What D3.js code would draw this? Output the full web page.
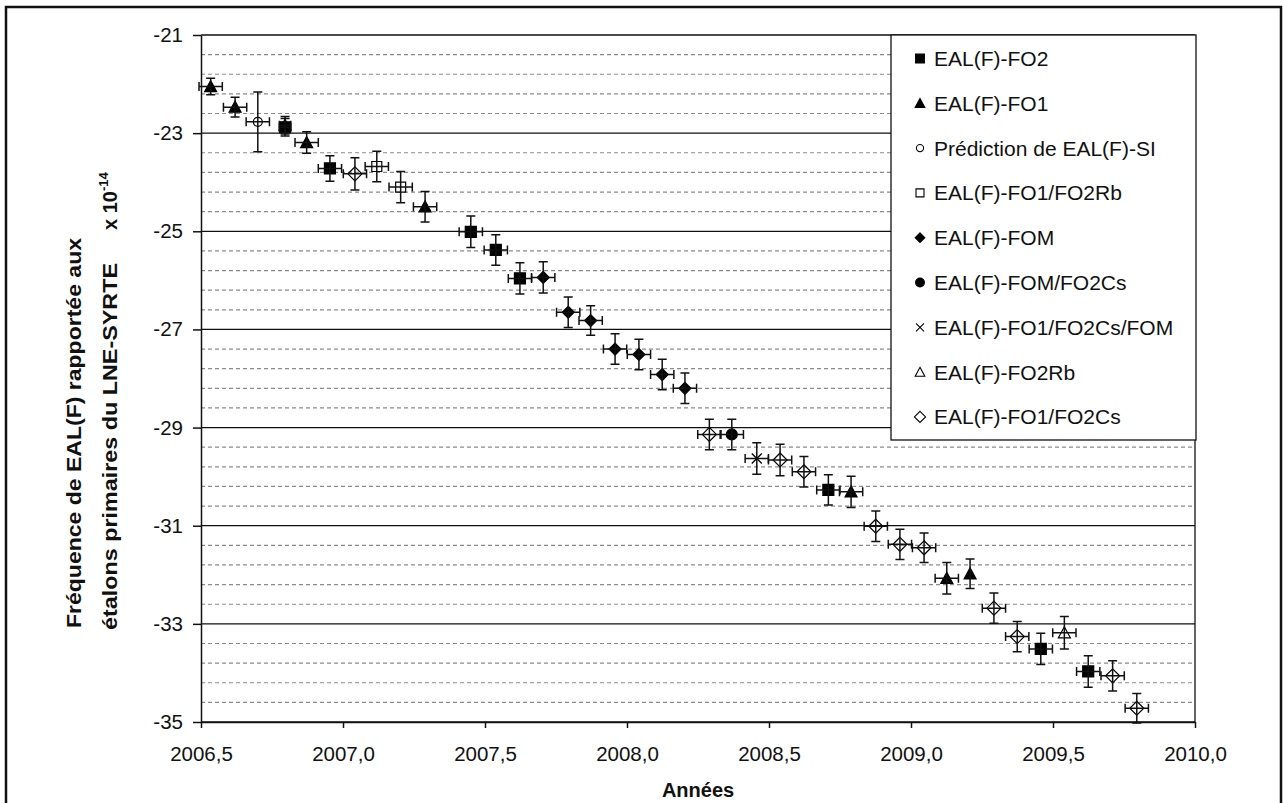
<!DOCTYPE html>
<html lang="fr">
<head>
<meta charset="utf-8">
<title>Fréquence de EAL(F)</title>
<style>
  body { margin:0; background:#fff; }
  svg  { display:block; }
  text { font-family:"Liberation Sans", Arial, sans-serif; fill:#111; }
</style>
</head>
<body>
<script src="https://cdn.jsdelivr.net/npm/d3@7"></script>
<script>
// series names, in legend order
const seriesNames = [
  "EAL(F)-FO2", "EAL(F)-FO1", "Prédiction de EAL(F)-SI", "EAL(F)-FO1/FO2Rb",
  "EAL(F)-FOM", "EAL(F)-FOM/FO2Cs", "EAL(F)-FO1/FO2Cs/FOM", "EAL(F)-FO2Rb", "EAL(F)-FO1/FO2Cs"
];
const seriesMarkers = ["squareF", "triF", "circleO", "squareO", "diamondF", "circleF", "cross", "triO", "diamondO"];

// points: series index, year, value (x 1e-14), y error, x error
const pointSeries = [1,1,2,0,1,0,1,8,3,3,1,0,0,0,4,4,4,4,4,4,4,8,5,6,8,8,0,1,8,8,8,1,1,8,8,0,7,0,8,8];
const pointYears  = [2006.534,2006.620,2006.700,2006.796,2006.796,2006.954,2006.872,2007.042,2007.119,2007.203,2007.289,
                     2007.450,2007.538,2007.623,2007.705,2007.793,2007.872,2007.958,2008.042,2008.124,2008.204,
                     2008.290,2008.369,2008.457,2008.539,2008.623,2008.709,2008.789,2008.876,2008.961,2009.046,
                     2009.126,2009.208,2009.292,2009.374,2009.457,2009.540,2009.624,2009.710,2009.795];
const pointValues = [-22.05,-22.47,-22.77,-22.88,-22.84,-23.72,-23.19,-23.83,-23.68,-24.10,-24.50,
                     -25.01,-25.38,-25.96,-25.94,-26.65,-26.82,-27.40,-27.51,-27.92,-28.20,
                     -29.14,-29.14,-29.63,-29.66,-29.90,-30.27,-30.31,-31.01,-31.38,-31.45,
                     -32.07,-31.98,-32.68,-33.26,-33.51,-33.18,-33.97,-34.06,-34.72];
const pointYErr   = [0.17,0.20,0.61,0.18,0.18,0.26,0.22,0.33,0.31,0.32,0.31,
                     0.32,0.31,0.32,0.32,0.31,0.30,0.31,0.31,0.31,0.31,
                     0.31,0.31,0.32,0.32,0.31,0.31,0.32,0.31,0.31,0.30,
                     0.32,0.30,0.31,0.31,0.32,0.33,0.32,0.31,0.30];
const pointXErr   = [0.041,0.041,0.041,0.02,0.02,0.041,0.041,0.041,0.041,0.041,0.041,
                     0.041,0.041,0.041,0.041,0.041,0.041,0.041,0.041,0.041,0.041,
                     0.041,0.041,0.041,0.041,0.041,0.041,0.041,0.041,0.041,0.041,
                     0.041,0,0.041,0.041,0.041,0.041,0.041,0.041,0.041];

const yMajorTicks = [-21, -23, -25, -27, -29, -31, -33, -35];
const xTicks = [2006.5, 2007.0, 2007.5, 2008.0, 2008.5, 2009.0, 2009.5, 2010.0];

const points = pointYears.map((yr, i) => ({
  s: pointSeries[i], x: yr, y: pointValues[i], ey: pointYErr[i], ex: pointXErr[i]
}));

const W = 1287, H = 803;
const svg = d3.select("body").append("svg").attr("width", W).attr("height", H);

const x = d3.scaleLinear().domain([2006.5, 2010]).range([201, 1195]);
const y = d3.scaleLinear().domain([-35, -21]).range([722, 35]);

// outer frame
svg.append("rect").attr("x", 6).attr("y", 7).attr("width", 1275).attr("height", 830)
  .attr("fill", "none").attr("stroke", "#111").attr("stroke-width", 2.5);

// minor dashed grid every 0.4
const minor = d3.range(0, 36).map(i => -35 + i * 0.4).filter((d, i) => i % 5 !== 0);
svg.append("g").selectAll("line").data(minor).join("line")
  .attr("x1", x(2006.5)).attr("x2", x(2010)).attr("y1", d => y(d)).attr("y2", d => y(d))
  .attr("stroke", "#8a8a8a").attr("stroke-width", 1.2).attr("stroke-dasharray", "4,3");

// major solid grid
svg.append("g").selectAll("line").data(yMajorTicks).join("line")
  .attr("x1", x(2006.5)).attr("x2", x(2010)).attr("y1", d => y(d)).attr("y2", d => y(d))
  .attr("stroke", "#111").attr("stroke-width", 1.3);

// right border of plot area
svg.append("line").attr("x1", x(2010)).attr("x2", x(2010)).attr("y1", y(-21)).attr("y2", y(-35))
  .attr("stroke", "#111").attr("stroke-width", 1.3);

// axes
const yAxis = svg.append("g").attr("transform", `translate(${x(2006.5)},0)`)
  .call(d3.axisLeft(y).tickValues(yMajorTicks).tickSize(8).tickSizeOuter(0).tickPadding(10).tickFormat(d => String(d)));
const xAxis = svg.append("g").attr("transform", `translate(0,${y(-35)})`)
  .call(d3.axisBottom(x).tickValues(xTicks).tickSize(6).tickSizeOuter(0).tickPadding(18)
    .tickFormat(d => d.toFixed(1).replace(".", ",")));
[yAxis, xAxis].forEach(a => {
  a.selectAll("path.domain").attr("stroke", "#111").attr("stroke-width", 1.5);
  a.selectAll(".tick line").attr("stroke", "#111").attr("stroke-width", 1.5);
  a.selectAll("text").attr("font-family", "Liberation Sans, Arial, sans-serif").style("font-size", "20.5px").attr("fill", "#111");
});

// marker shapes
function markerPath(type, k) {
  switch (type) {
    case "squareF": { const r = 5.5 * k; return `M${-r},${-r}H${r}V${r}H${-r}Z`; }
    case "squareO": { const r = 5 * k; return `M${-r},${-r}H${r}V${r}H${-r}Z`; }
    case "triF": case "triO": { const r = 6 * k; return `M0,${-r}L${r},${r * 0.85}L${-r},${r * 0.85}Z`; }
    case "diamondF": { const r = 6 * k; return `M0,${-r}L${r},0L0,${r}L${-r},0Z`; }
    case "diamondO": { const r = 7 * k; return `M0,${-r}L${r},0L0,${r}L${-r},0Z`; }
    case "circleO": { const r = 4.5 * k; return `M${r},0A${r},${r} 0 1,1 ${-r},0A${r},${r} 0 1,1 ${r},0Z`; }
    case "circleF": { const r = 5.5 * k; return `M${r},0A${r},${r} 0 1,1 ${-r},0A${r},${r} 0 1,1 ${r},0Z`; }
    case "cross": { const r = 5 * k; return `M${-r},${-r}L${r},${r}M${r},${-r}L${-r},${r}`; }
  }
}
const isFilled = t => t.endsWith("F");

// markers
svg.append("g").selectAll("path").data(points).join("path")
  .attr("transform", d => `translate(${x(d.x)},${y(d.y)})`)
  .attr("d", d => markerPath(seriesMarkers[d.s], 1))
  .attr("fill", d => isFilled(seriesMarkers[d.s]) ? "#000" : "none")
  .attr("stroke", "#000").attr("stroke-width", d => seriesMarkers[d.s] === "cross" ? 1.3 : 1.2);

// error bars
const cap = 4.5;
const eb = svg.append("g").attr("stroke", "#111").attr("stroke-width", 1.5).attr("fill", "none");
eb.selectAll("path.v").data(points).join("path").attr("class", "v")
  .attr("d", d => {
    const cx = x(d.x), y1 = y(d.y + d.ey), y2 = y(d.y - d.ey);
    return `M${cx},${y1}V${y2}M${cx - cap},${y1}H${cx + cap}M${cx - cap},${y2}H${cx + cap}`;
  });
eb.selectAll("path.h").data(points.filter(d => d.ex > 0)).join("path").attr("class", "h")
  .attr("d", d => {
    const cy = y(d.y), x1 = x(d.x - d.ex), x2 = x(d.x + d.ex);
    return `M${x1},${cy}H${x2}M${x1},${cy - cap}V${cy + cap}M${x2},${cy - cap}V${cy + cap}`;
  });

// legend
const legend = svg.append("g");
legend.append("rect").attr("x", 891).attr("y", 35).attr("width", 305).attr("height", 405)
  .attr("fill", "#fff").attr("stroke", "#111").attr("stroke-width", 1.3);
const items = legend.selectAll("g.item").data(seriesNames).join("g").attr("class", "item")
  .attr("transform", (d, i) => `translate(920,${58.5 + i * 44.8})`);
items.append("path")
  .attr("d", (d, i) => markerPath(seriesMarkers[i], 0.8))
  .attr("fill", (d, i) => isFilled(seriesMarkers[i]) ? "#000" : "#fff")
  .attr("stroke", "#000").attr("stroke-width", 1.1);
items.append("text").attr("x", 14).attr("y", 7.5).style("font-size", "21px").text(d => d);

// axis titles
svg.append("text").attr("x", x(2008.25)).attr("y", 797).attr("text-anchor", "middle")
  .style("font-size", "20px").style("font-weight", "bold").text("Années");

const yt = svg.append("g").style("font-weight", "bold").style("font-size", "20px");
yt.append("text").attr("transform", "translate(81,628) rotate(-90)")
  .attr("textLength", 390).attr("lengthAdjust", "spacingAndGlyphs")
  .text("Fréquence de EAL(F) rapportée aux");
yt.append("text").attr("transform", "translate(117,630) rotate(-90)")
  .attr("textLength", 367).attr("lengthAdjust", "spacingAndGlyphs")
  .text("étalons primaires du LNE-SYRTE");
const exp = yt.append("text").attr("transform", "translate(117,230) rotate(-90)");
exp.append("tspan").text("x 10");
exp.append("tspan").attr("dy", -9).style("font-size", "13px").text("-14");
</script>
</body>
</html>
